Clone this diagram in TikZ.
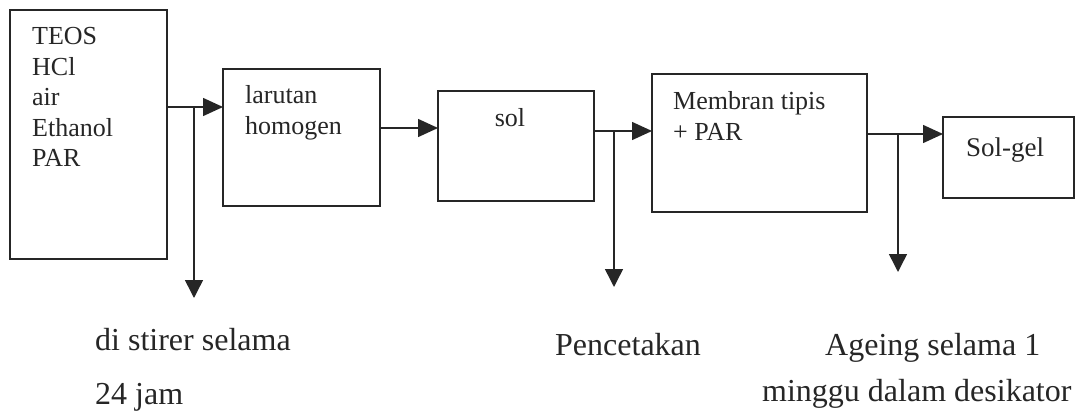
\documentclass[tikz,border=0pt]{standalone}
\usepackage{fontspec}
\setmainfont{Liberation Serif}
\usetikzlibrary{arrows.meta}
\begin{document}
\begin{tikzpicture}[x=1pt,y=-1pt,
  box/.style={draw=black!85,line width=1.6pt,inner sep=0pt,outer sep=0pt,anchor=north west},
  intxt/.style={anchor=base west,inner sep=0pt,font=\fontsize{26}{30}\selectfont,text=black!85},
  outtxt/.style={anchor=base west,inner sep=0pt,font=\fontsize{32}{38}\selectfont,text=black!85},
  flow/.style={draw=black!85,line width=1.5pt,-{Triangle[length=20pt,width=18pt]}},
  down/.style={draw=black!85,line width=1.5pt,-{Triangle[length=18pt,width=18pt]}}]
\useasboundingbox (0,0) rectangle (1080,420);
% boxes
\node[box,minimum width=157pt,minimum height=249pt] (b1) at (10,10) {};
\node[box,minimum width=157pt,minimum height=137pt] (b2) at (223,69) {};
\node[box,minimum width=156pt,minimum height=110pt] (b3) at (438,91) {};
\node[box,minimum width=215pt,minimum height=138pt] (b4) at (652,74) {};
\node[box,minimum width=131pt,minimum height=81pt] (b5) at (943,117) {};
% box texts
\node[intxt] (t1a) at (32,45) {TEOS};
\node[intxt] (t1b) at (32,76) {HCl};
\node[intxt] (t1c) at (32,106) {air};
\node[intxt] (t1d) at (32,136) {Ethanol};
\node[intxt] (t1e) at (32,166) {PAR};
\node[intxt] (t2a) at (245,103) {larutan};
\node[intxt] (t2b) at (245,135) {homogen};
\node[intxt,anchor=base] (t3) at (510,127) {sol};
\node[intxt] (t4a) at (673,110) {Membran tipis};
\node[intxt] (t4b) at (673,140) {+ PAR};
\node[intxt,font=\fontsize{27}{30}\selectfont] (t5) at (966,156) {Sol-gel};
% junctions and ends
\coordinate (j1) at (194,107);
\coordinate (e1) at (194,298);
\coordinate (j2) at (0,128);
\coordinate (j3) at (614,131);
\coordinate (e3) at (614,287);
\coordinate (j4) at (898,134);
\coordinate (e4) at (898,272);
% connectors
\draw[flow] (b1.east |- j1) -- (b2.west |- j1);
\draw[down] (j1) -- (e1);
\draw[flow] (b2.east |- j2) -- (b3.west |- j2);
\draw[flow] (b3.east |- j3) -- (b4.west |- j3);
\draw[down] (j3) -- (e3);
\draw[flow] (b4.east |- j4) -- (b5.west |- j4);
\draw[down] (j4) -- (e4);
% bottom labels
\node[outtxt] (l1a) at (95,350) {di stirer selama};
\node[outtxt] (l1b) at (95,404) {24 jam};
\node[outtxt] (l2) at (555,355) {Pencetakan};
\node[outtxt] (l3a) at (825,355) {Ageing selama 1};
\node[outtxt] (l3b) at (762,401) {minggu dalam desikator};
\end{tikzpicture}
\end{document}
